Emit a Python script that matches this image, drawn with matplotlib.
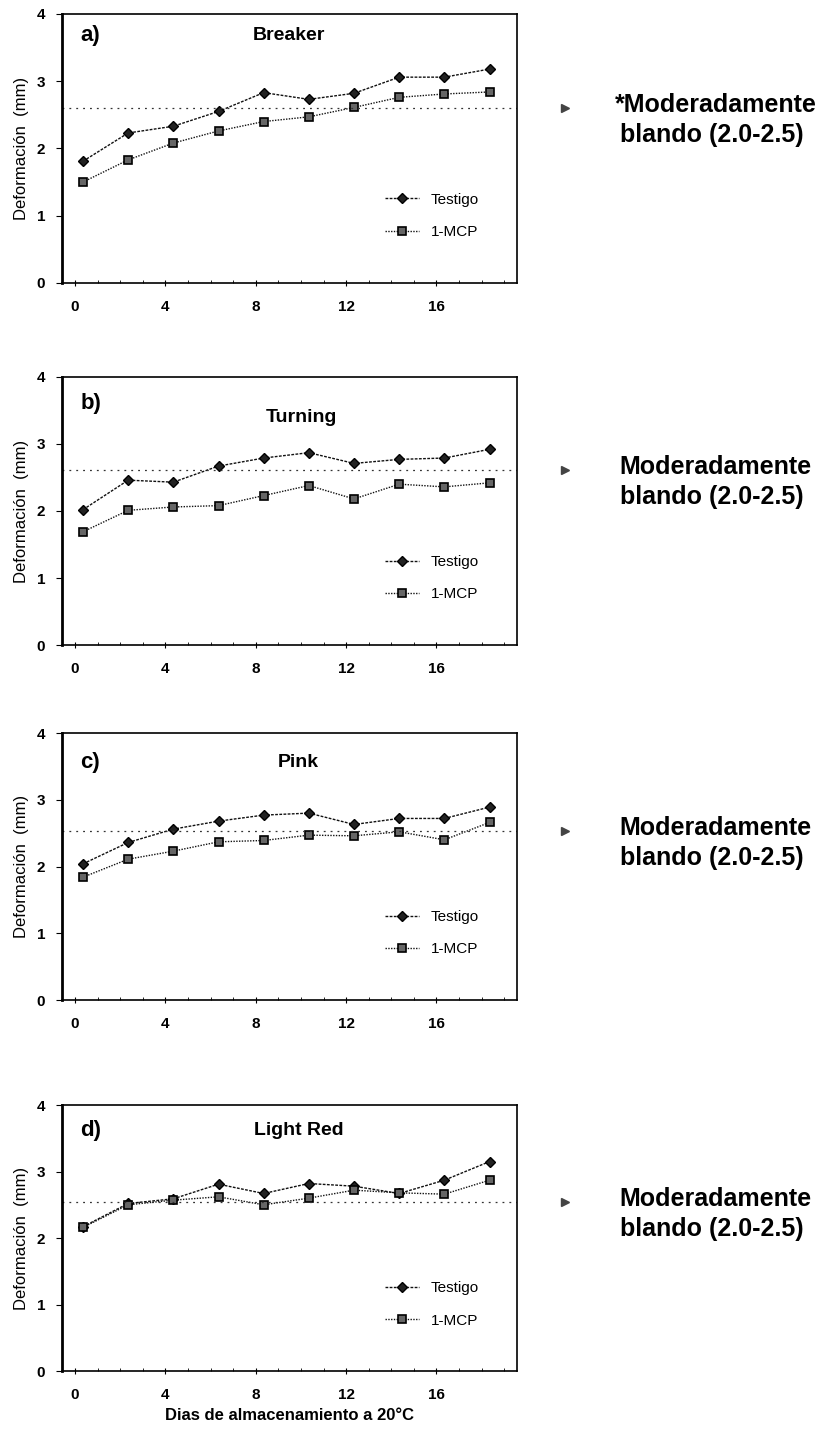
import matplotlib
matplotlib.use("Agg")
import matplotlib.pyplot as plt
from matplotlib.transforms import blended_transform_factory

plt.rcParams['font.family'] = ['Liberation Sans', 'DejaVu Sans']

# dias de almacenamiento (puntos cada 2 dias)
dias = [0, 2, 4, 6, 8, 10, 12, 14, 16, 18]
ticks_x = [0, 4, 8, 12, 16]

paneles = ['a)', 'b)', 'c)', 'd)']
estados = ['Breaker', 'Turning', 'Pink', 'Light Red']

testigo_a = [1.81, 2.23, 2.33, 2.55, 2.83, 2.73, 2.82, 3.06, 3.06, 3.18]
mcp_a = [1.50, 1.83, 2.08, 2.26, 2.40, 2.47, 2.61, 2.76, 2.81, 2.84]
testigo_b = [2.02, 2.46, 2.43, 2.67, 2.79, 2.87, 2.71, 2.77, 2.79, 2.92]
mcp_b = [1.69, 2.01, 2.06, 2.08, 2.23, 2.38, 2.18, 2.40, 2.36, 2.42]
testigo_c = [2.04, 2.36, 2.56, 2.68, 2.77, 2.80, 2.63, 2.72, 2.72, 2.89]
mcp_c = [1.84, 2.11, 2.23, 2.37, 2.39, 2.47, 2.46, 2.52, 2.40, 2.66]
testigo_d = [2.17, 2.52, 2.59, 2.81, 2.67, 2.82, 2.78, 2.67, 2.87, 3.15]
mcp_d = [2.16, 2.50, 2.57, 2.62, 2.50, 2.60, 2.72, 2.68, 2.66, 2.87]

# nivel de referencia "moderadamente blando"
referencia = [2.60, 2.61, 2.53, 2.54]
notas = ['*Moderadamente', 'Moderadamente', 'Moderadamente', 'Moderadamente']

testigos = [testigo_a, testigo_b, testigo_c, testigo_d]
mcps = [mcp_a, mcp_b, mcp_c, mcp_d]

fig = plt.figure(figsize=(8.3, 14.37), dpi=100)

# posiciones de los ejes (izq, abajo, ancho, alto)
cajas = [
    [0.0747, 0.8031, 0.548, 0.1872],
    [0.0747, 0.5511, 0.548, 0.1866],
    [0.0747, 0.3041, 0.548, 0.1858],
    [0.0747, 0.0459, 0.548, 0.1851],
]
letra_y = [0.92, 0.90, 0.89, 0.905]
titulo_y = [0.92, 0.85, 0.89, 0.905]
titulo_x = [0.50, 0.527, 0.52, 0.52]
desfase = 0.35  # los puntos no caen justo sobre la marca

for i in range(4):
    ax = fig.add_axes(cajas[i])
    ax.plot(dias, testigos[i], linestyle=(0, (2, 1)), lw=1.0, color='#111111',
            marker='D', ms=5, mfc='#222222', mec='black', label='Testigo')
    ax.plot(dias, mcps[i], linestyle=(0, (1, 1)), lw=1.0, color='#111111',
            marker='s', ms=5.5, mfc='#666666', mec='black', mew=1.2, label='1-MCP')
    ax.axhline(referencia[i], color='#333333', lw=0.9, linestyle=(0, (1.5, 4)))

    ax.set_xlim(-0.93, 19.21)
    ax.set_ylim(0, 4)
    ax.set_xticks([t - desfase for t in ticks_x])
    ax.set_xticklabels([str(t) for t in ticks_x], fontsize=11, fontweight='bold')
    ax.set_xticks([t - desfase for t in range(0, 20)], minor=True)
    ax.set_yticks([0, 1, 2, 3, 4])
    ax.set_yticklabels(['0', '1', '2', '3', '4'], fontsize=11, fontweight='bold')
    ax.tick_params(axis='x', which='major', direction='inout', length=5, pad=10)
    ax.tick_params(axis='x', which='minor', direction='in', length=2.5)
    ax.tick_params(axis='y', direction='out', length=4, pad=8)
    for lado in ['top', 'right', 'bottom']:
        ax.spines[lado].set_linewidth(1.2)
    ax.spines['left'].set_linewidth(2)
    ax.set_ylabel('Deformación  (mm)', fontsize=12, labelpad=6)

    ax.text(0.04, letra_y[i], paneles[i], transform=ax.transAxes, fontsize=16,
            fontweight='bold', va='center', ha='left')
    ax.text(titulo_x[i], titulo_y[i], estados[i], transform=ax.transAxes, fontsize=14,
            fontweight='bold', va='center', ha='center')

    ax.legend(loc='center left', bbox_to_anchor=(0.68, 0.25), frameon=False,
              fontsize=11, labelspacing=1.2, handlelength=2.2, handletextpad=0.8)

    tr = blended_transform_factory(ax.transAxes, ax.transData)
    ax.plot([1.105], [referencia[i]], marker='>', ms=6, color='#444444',
            transform=tr, clip_on=False)
    x_nota = 1.215 if i == 0 else 1.226
    ax.text(x_nota, referencia[i] + 0.04, notas[i], transform=tr, fontsize=18,
            fontweight='bold', va='center', ha='left')
    ax.text(1.226, referencia[i] - 0.40, 'blando (2.0-2.5)', transform=tr,
            fontsize=18, fontweight='bold', va='center', ha='left')

    if i == 3:
        ax.set_xlabel('Dias de almacenamiento a 20°C', fontsize=12,
                      fontweight='bold', labelpad=4)

fig.savefig('out.png', dpi=100)
